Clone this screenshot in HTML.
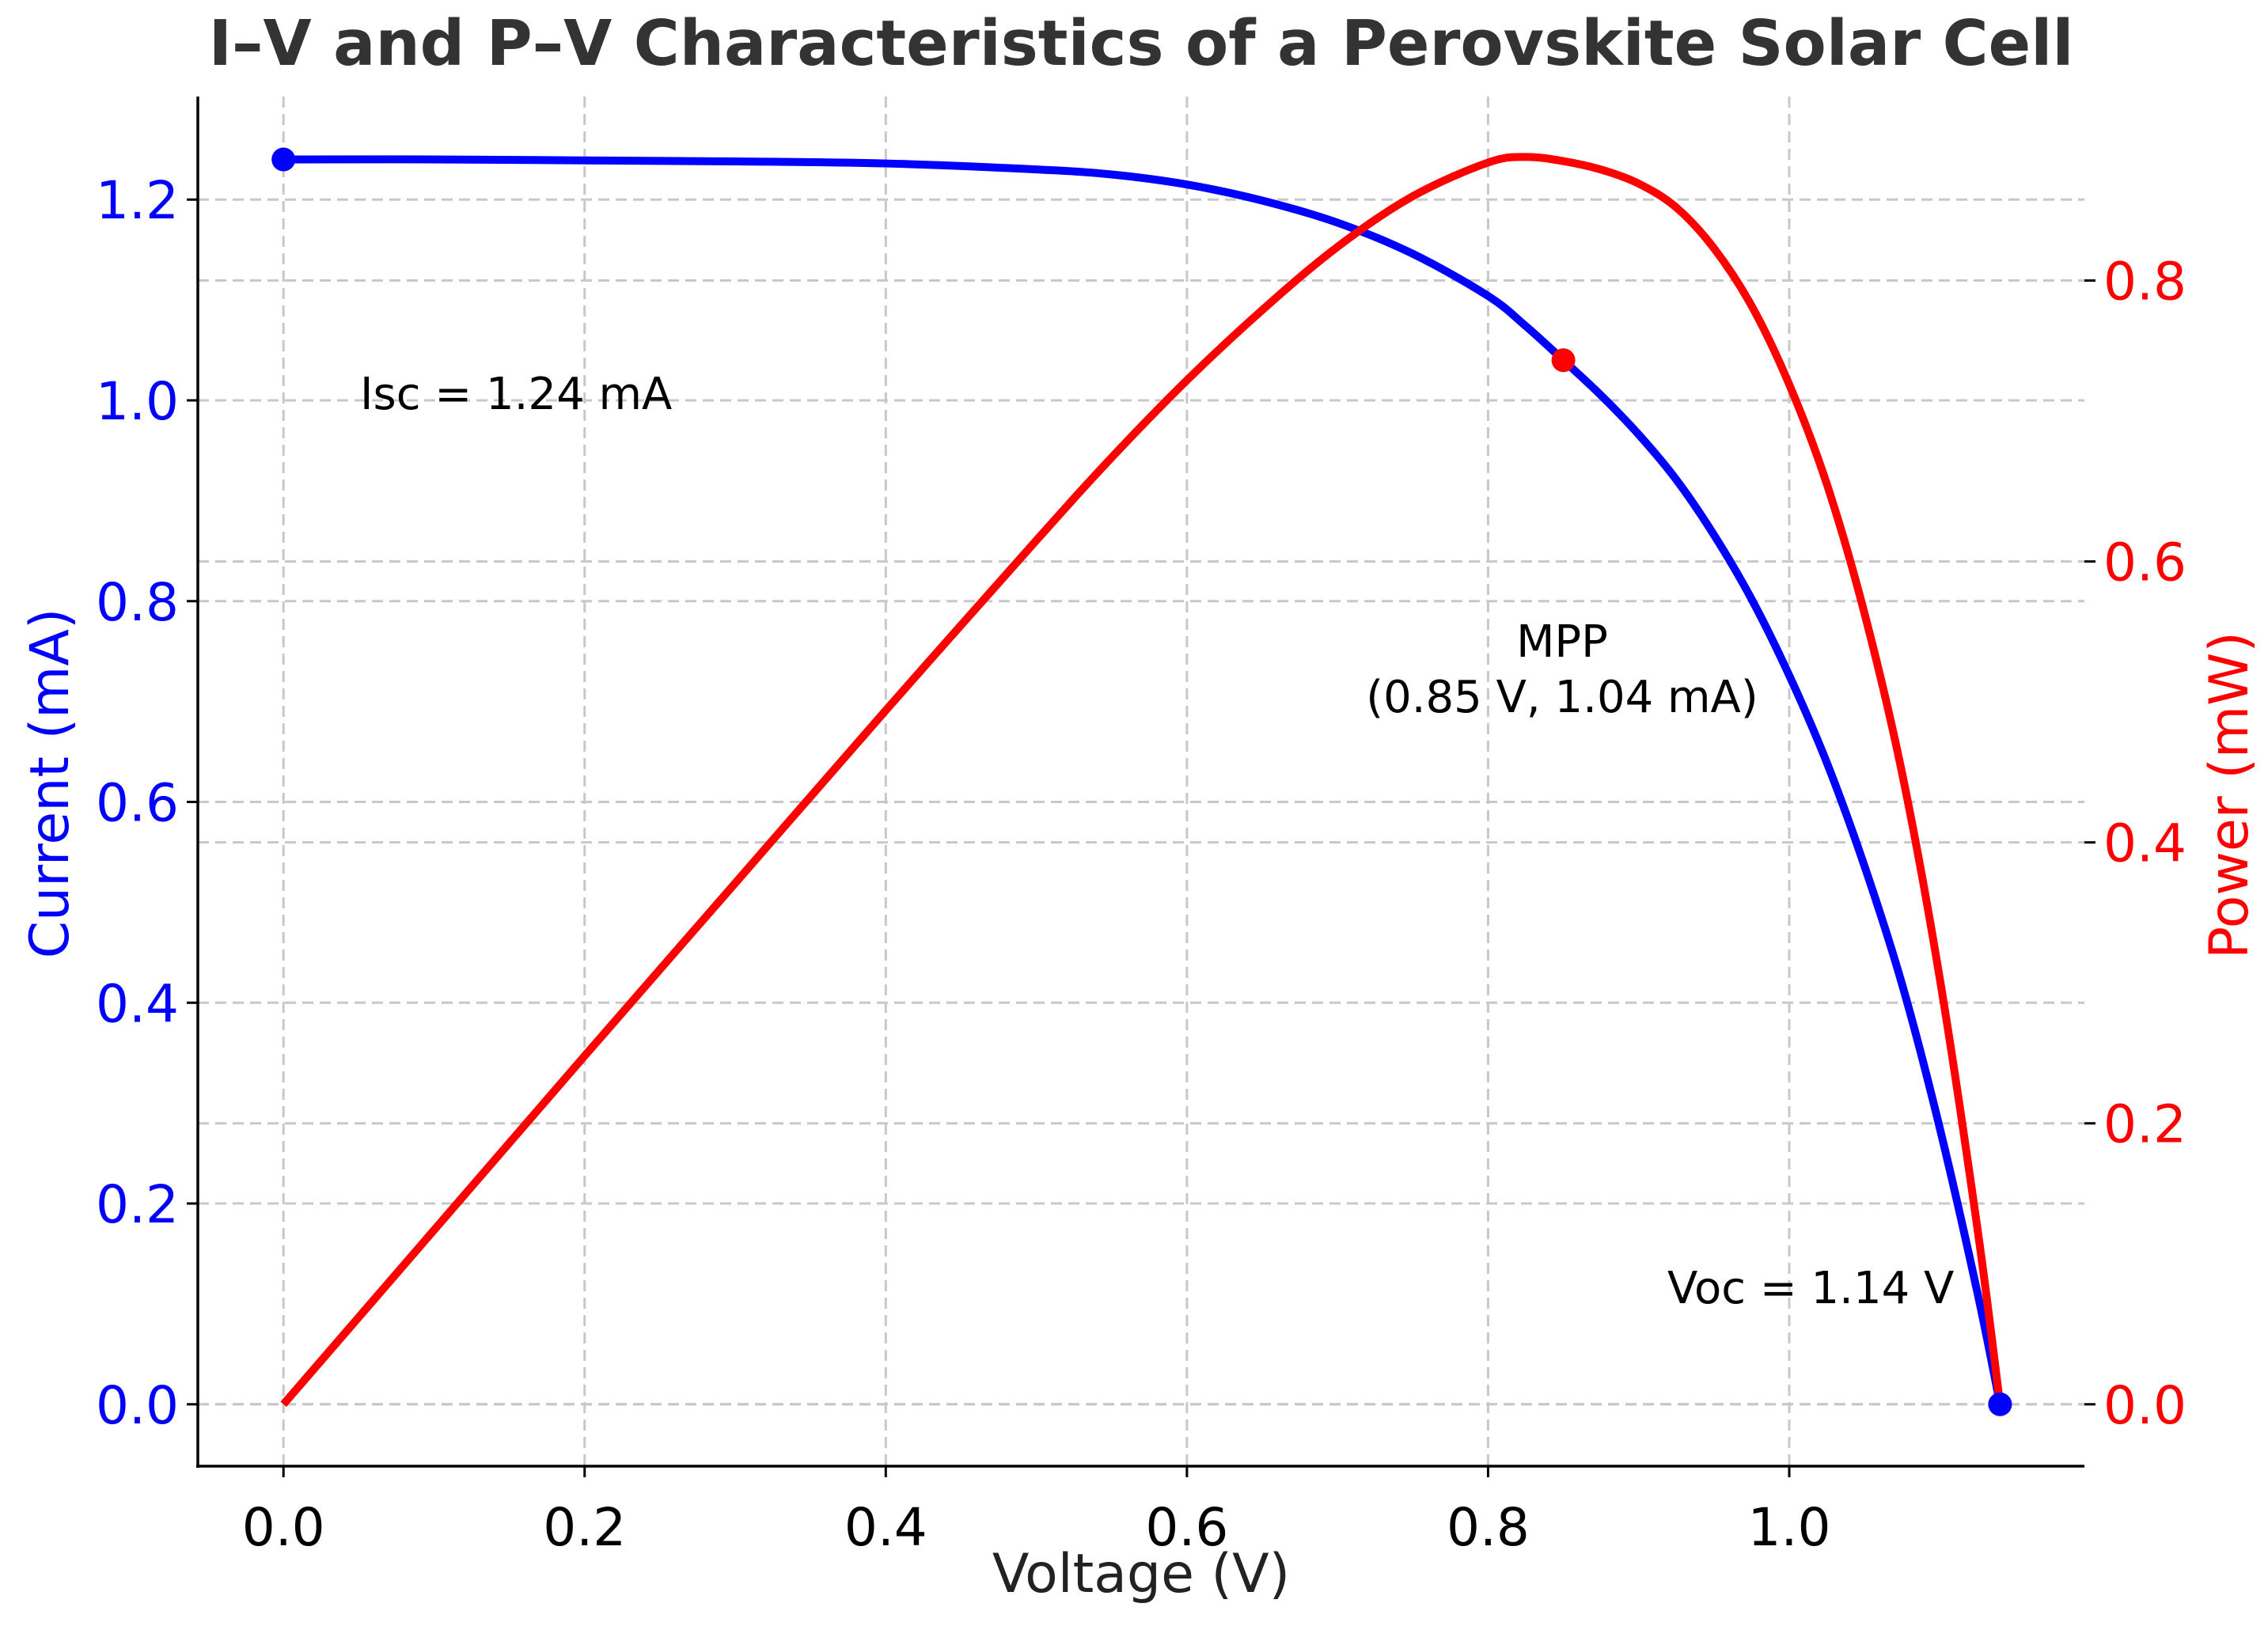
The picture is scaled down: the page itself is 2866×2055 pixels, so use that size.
<!DOCTYPE html>
<html><head><meta charset="utf-8">
<style>
html,body{margin:0;padding:0;background:#fff;}
svg{display:block;font-family:"DejaVu Sans","Liberation Sans",sans-serif;}
</style></head>
<body>
<svg id="chart" width="2866" height="2055" viewBox="0 0 2866 2055" xmlns="http://www.w3.org/2000/svg">
<rect width="2866" height="2055" fill="#fff"/>
<text x="1442" y="82" text-anchor="middle" font-size="79" font-weight="bold" fill="#333">I–V and P–V Characteristics of a Perovskite Solar Cell</text>
<g id="grid"></g>
<g id="axes"></g>
<g id="series"></g>
<g id="annots"></g>
</svg>
<script>
const voltage = [0,0.1,0.2,0.3,0.4,0.5,0.55,0.6,0.65,0.7,0.75,0.8,0.825,0.85,0.875,0.9,0.925,0.95,0.975,1.0,1.025,1.05,1.075,1.1,1.125,1.14];
const current = [1.24,1.24,1.239,1.238,1.236,1.230,1.225,1.215,1.199,1.177,1.146,1.104,1.074,1.040,1.005,0.966,0.921,0.866,0.802,0.726,0.639,0.536,0.418,0.275,0.111,0];
const power = [0,0.124,0.248,0.371,0.494,0.615,0.674,0.729,0.779,0.824,0.860,0.884,0.888,0.885,0.879,0.869,0.852,0.823,0.782,0.726,0.655,0.563,0.449,0.303,0.125,0];
const xTicks = [0,0.2,0.4,0.6,0.8,1.0];
const xTickLabels = ["0.0","0.2","0.4","0.6","0.8","1.0"];
const iTicks = [0,0.2,0.4,0.6,0.8,1.0,1.2];
const iTickLabels = ["0.0","0.2","0.4","0.6","0.8","1.0","1.2"];
const pTicks = [0,0.2,0.4,0.6,0.8];
const pTickLabels = ["0.0","0.2","0.4","0.6","0.8"];
const isc = [0,1.24];
const voc = [1.14,0];
const mpp = [0.85,1.04];

const NS="http://www.w3.org/2000/svg";
const L=250,R=2634,T=122,B=1853;
const X=v=>358.2+v*1902.8;
const YI=i=>1774.8-i*1268.8;
const YP=p=>1774.8-p*1775.3;
function mk(tag,attrs,parent,txt){const e=document.createElementNS(NS,tag);for(const k in attrs)e.setAttribute(k,attrs[k]);if(txt!==undefined)e.textContent=txt;document.getElementById(parent).appendChild(e);return e;}
function smooth(pts){let d=`M${pts[0][0]},${pts[0][1]}`;for(let i=0;i<pts.length-1;i++){const p0=pts[Math.max(i-1,0)],p1=pts[i],p2=pts[i+1],p3=pts[Math.min(i+2,pts.length-1)];const c1=[p1[0]+(p2[0]-p0[0])/6,p1[1]+(p2[1]-p0[1])/6],c2=[p2[0]-(p3[0]-p1[0])/6,p2[1]-(p3[1]-p1[1])/6];d+=` C${c1[0]},${c1[1]} ${c2[0]},${c2[1]} ${p2[0]},${p2[1]}`;}return d;}

// grid
xTicks.forEach(v=>{const g=mk('line',{x1:X(v),x2:X(v),y1:T,y2:B,stroke:'#c8c8c8','stroke-width':3,'stroke-dasharray':'14 8'},'grid');

});
iTicks.forEach(v=>{const g=mk('line',{x1:L,x2:R,y1:YI(v),y2:YI(v),stroke:'#c8c8c8','stroke-width':3,'stroke-dasharray':'14 8'},'grid');

});
pTicks.forEach(v=>{const g=mk('line',{x1:L,x2:R,y1:YP(v),y2:YP(v),stroke:'#c8c8c8','stroke-width':3,'stroke-dasharray':'14 8'},'grid');

});

// axes
let a=mk('line',{x1:L,x2:L,y1:T,y2:B+2,stroke:'#000','stroke-width':3.5},'axes');


a=mk('line',{x1:L-2,x2:R,y1:B,y2:B,stroke:'#000','stroke-width':3.5},'axes');


xTicks.forEach((v,k)=>{let t=mk('line',{x1:X(v),x2:X(v),y1:B,y2:B+14,stroke:'#000','stroke-width':3},'axes');


let l=mk('text',{x:X(v),y:B+100,'text-anchor':'middle','font-size':66,fill:'#000'},'axes',xTickLabels[k]);

});
iTicks.forEach((v,k)=>{let t=mk('line',{x1:L-14,x2:L,y1:YI(v),y2:YI(v),stroke:'#000','stroke-width':3},'axes');


let l=mk('text',{x:L-24,y:YI(v)+24,'text-anchor':'end','font-size':66,fill:'#0000ff'},'axes',iTickLabels[k]);

});
pTicks.forEach((v,k)=>{let t=mk('line',{x1:R,x2:R+14,y1:YP(v),y2:YP(v),stroke:'#000','stroke-width':3},'axes');


let l=mk('text',{x:R+24,y:YP(v)+24,'text-anchor':'start','font-size':66,fill:'#ff0000'},'axes',pTickLabels[k]);

});
a=mk('text',{x:1442,y:2012,'text-anchor':'middle','font-size':68,fill:'#222'},'axes','Voltage (V)');


a=mk('text',{x:0,y:0,'text-anchor':'middle','font-size':68,fill:'#0000ff',transform:'translate(86,990) rotate(-90)'},'axes','Current (mA)');


a=mk('text',{x:0,y:0,'text-anchor':'middle','font-size':68,fill:'#ff0000',transform:'translate(2840,1005) rotate(-90)'},'axes','Power (mW)');



// series
let s=mk('path',{d:smooth(voltage.map((v,i)=>[X(v),YI(current[i])])),fill:'none',stroke:'#0000ff','stroke-width':10,'stroke-linejoin':'round'},'series');


s=mk('path',{d:smooth(voltage.map((v,i)=>[X(v),YP(power[i])])),fill:'none',stroke:'#ff0000','stroke-width':10,'stroke-linejoin':'round'},'series');


s=mk('circle',{cx:X(isc[0]),cy:YI(isc[1]),r:15,fill:'#0000ff'},'series');


s=mk('circle',{cx:X(voc[0]),cy:YI(voc[1]),r:15,fill:'#0000ff'},'series');


s=mk('circle',{cx:X(mpp[0]),cy:YI(mpp[1]),r:15,fill:'#ff0000'},'series');



// annotations
let n=mk('text',{x:455,y:517,'font-size':56,fill:'#000'},'annots','Isc = 1.24 mA');


n=mk('text',{x:1974,y:830,'text-anchor':'middle','font-size':56,fill:'#000'},'annots','MPP');


n=mk('text',{x:1974,y:900,'text-anchor':'middle','font-size':56,fill:'#000'},'annots','(0.85 V, 1.04 mA)');


n=mk('text',{x:2107,y:1647,'font-size':56,fill:'#000'},'annots','Voc = 1.14 V');


</script>
</body></html>
